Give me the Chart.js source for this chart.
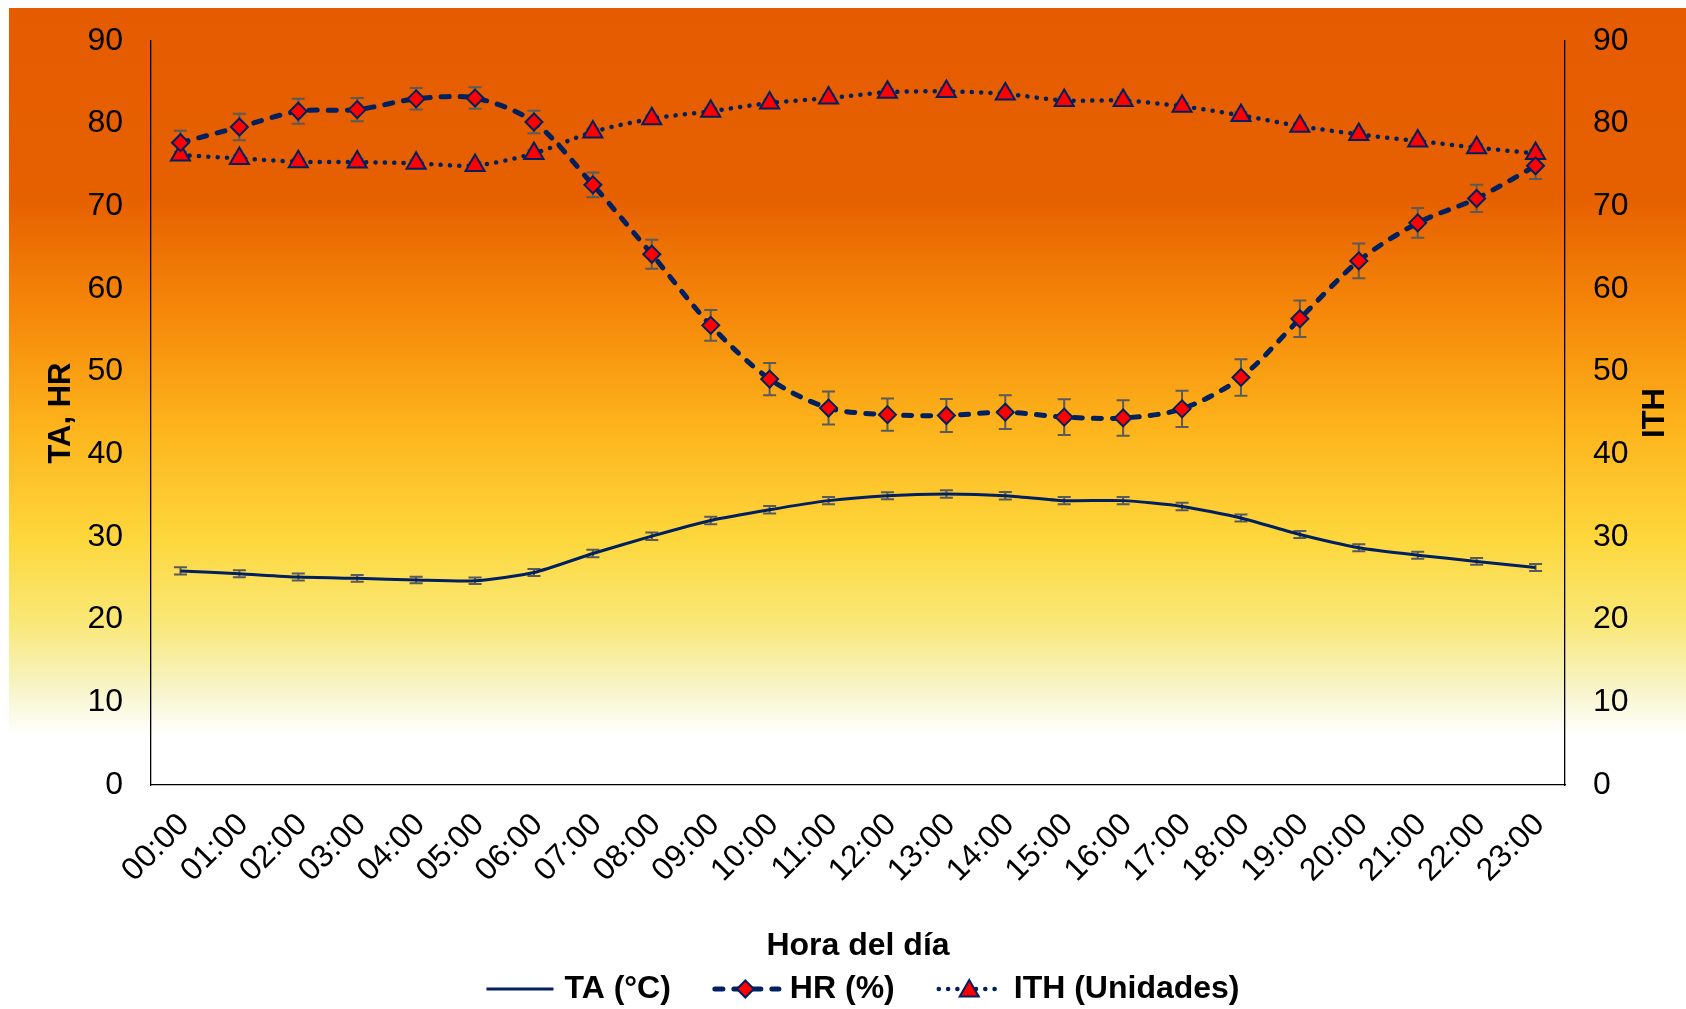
<!DOCTYPE html>
<html lang="es">
<head>
<meta charset="UTF-8">
<title>TA, HR e ITH por hora del día</title>
<script src="https://cdn.jsdelivr.net/npm/chart.js"></script>
<style>
  body { margin: 0; background: #fff; }
  #contenedor { width: 1686px; height: 1009px; }
</style>
</head>
<body>
<div id="contenedor"><canvas id="grafico"></canvas></div>
<script>
// datos
const horas = ['00:00', '01:00', '02:00', '03:00', '04:00', '05:00', '06:00', '07:00',
               '08:00', '09:00', '10:00', '11:00', '12:00', '13:00', '14:00', '15:00',
               '16:00', '17:00', '18:00', '19:00', '20:00', '21:00', '22:00', '23:00'];

const ta    = [25.9, 25.55, 25.15, 25.0, 24.8, 24.7, 25.7, 28.0, 30.1, 32.0, 33.3, 34.4,
               35.0, 35.2, 35.0, 34.4, 34.4, 33.7, 32.3, 30.3, 28.7, 27.8, 27.05, 26.3];
const taErr = [0.45, 0.42, 0.42, 0.4, 0.4, 0.4, 0.42, 0.45, 0.45, 0.45, 0.45, 0.45,
               0.42, 0.45, 0.45, 0.45, 0.45, 0.45, 0.42, 0.42, 0.42, 0.42, 0.42, 0.42];

const hr    = [77.7, 79.6, 81.5, 81.7, 83.0, 83.1, 80.2, 72.6, 64.2, 55.6, 49.1, 45.6,
               44.8, 44.7, 45.1, 44.5, 44.4, 45.5, 49.3, 56.4, 63.4, 68.0, 70.95, 74.9];
const hrErr = [1.45, 1.6, 1.5, 1.4, 1.3, 1.3, 1.35, 1.5, 1.75, 1.85, 1.95, 2.0,
               1.95, 2.0, 2.05, 2.15, 2.15, 2.2, 2.2, 2.2, 2.1, 1.8, 1.65, 1.6];

const ith    = [76.2, 75.8, 75.4, 75.35, 75.2, 74.95, 76.4, 79.0, 80.6, 81.5, 82.5, 83.1,
                83.8, 83.9, 83.6, 82.8, 82.8, 82.1, 81.0, 79.7, 78.7, 77.9, 77.1, 76.4];
const ithErr = [0.4, 0.4, 0.4, 0.4, 0.4, 0.4, 0.4, 0.4, 0.4, 0.4, 0.4, 0.4,
                0.4, 0.4, 0.4, 0.4, 0.4, 0.4, 0.4, 0.4, 0.4, 0.4, 0.4, 0.4];

const errores = [taErr, hrErr, ithErr];

const azul = '#002060';
const rojo = '#FF0000';
const fuente = "'Liberation Sans', Arial, sans-serif";

Chart.defaults.font.family = fuente;
Chart.defaults.color = '#000';

// fondo degradado naranja -> amarillo -> blanco
const fondo = {
  id: 'fondo',
  beforeDraw(chart) {
    const ctx = chart.ctx;
    const g = ctx.createLinearGradient(0, 8, 0, 1009);
    g.addColorStop(0, '#E55C00');
    g.addColorStop(0.19, '#E66000');
    g.addColorStop(0.31, '#F68A0A');
    g.addColorStop(0.42, '#FDB41C');
    g.addColorStop(0.53, '#FDD73C');
    g.addColorStop(0.615, '#F9E878');
    g.addColorStop(0.68, '#F7F4C8');
    g.addColorStop(0.726, '#FFFFFF');
    g.addColorStop(1, '#FFFFFF');
    ctx.save();
    ctx.fillStyle = '#fff';
    ctx.fillRect(0, 0, chart.width, chart.height);
    ctx.fillStyle = g;
    ctx.fillRect(9, 8, chart.width - 9, chart.height - 8);
    ctx.restore();
  }
};

// barras de error
const barrasError = {
  id: 'barrasError',
  beforeDatasetsDraw(chart) {
    const ctx = chart.ctx;
    ctx.save();
    ctx.strokeStyle = '#5A5A5A';
    ctx.lineWidth = 2;
    chart.data.datasets.forEach((ds, i) => {
      const meta = chart.getDatasetMeta(i);
      const esc = chart.scales[ds.yAxisID];
      errores[i].forEach((e, j) => {
        const x = meta.data[j].x;
        const yA = esc.getPixelForValue(ds.data[j] + e);
        const yB = esc.getPixelForValue(ds.data[j] - e);
        ctx.beginPath();
        ctx.moveTo(x, yA); ctx.lineTo(x, yB);
        ctx.moveTo(x - 6.5, yA); ctx.lineTo(x + 6.5, yA);
        ctx.moveTo(x - 6.5, yB); ctx.lineTo(x + 6.5, yB);
        ctx.stroke();
      });
    });
    ctx.restore();
  }
};

// titulo del eje derecho y leyenda estilo Excel
const extras = {
  id: 'extras',
  afterDraw(chart) {
    const ctx = chart.ctx;
    const area = chart.chartArea;
    ctx.save();
    ctx.fillStyle = '#000';
    ctx.font = 'bold 31px ' + fuente;
    ctx.textAlign = 'center';
    ctx.textBaseline = 'middle';
    ctx.translate(1655, (area.top + area.bottom) / 2);
    ctx.rotate(-Math.PI / 2);
    ctx.fillText('ITH', 0, 0);
    ctx.restore();

    ctx.save();
    ctx.font = 'bold 32px ' + fuente;
    ctx.textBaseline = 'middle';
    const largo = 67, sep = 11, entre = 41, yLey = 989;
    const dss = chart.data.datasets;
    let total = 0;
    dss.forEach(ds => { total += largo + sep + ctx.measureText(ds.label).width; });
    total += entre * (dss.length - 1);
    let x = 863 - total / 2;
    dss.forEach(ds => {
      ctx.save();
      ctx.strokeStyle = ds.borderColor;
      ctx.lineWidth = ds.borderWidth;
      ctx.lineCap = ds.borderCapStyle || 'butt';
      ctx.setLineDash(ds.borderDash || []);
      ctx.beginPath();
      ctx.moveTo(x + (ds.borderDash ? 3 : 0), yLey);
      ctx.lineTo(x + largo, yLey);
      ctx.stroke();
      ctx.setLineDash([]);
      if (ds.pointRadius > 0) {
        ctx.fillStyle = ds.pointBackgroundColor;
        ctx.strokeStyle = ds.pointBorderColor;
        ctx.lineWidth = ds.pointBorderWidth;
        Chart.helpers.drawPoint(ctx, {
          pointStyle: ds.pointStyle, radius: ds.pointRadius,
          borderWidth: ds.pointBorderWidth, rotation: 0
        }, x + largo / 2, yLey + (ds.pointStyle === 'triangle' ? 2 : 0));
      }
      ctx.restore();
      x += largo + sep;
      ctx.fillStyle = '#000';
      ctx.fillText(ds.label, x, yLey);
      x += ctx.measureText(ds.label).width + entre;
    });
    ctx.restore();
  }
};

const ticksEje = { stepSize: 10, padding: 28, font: { size: 32 } };

// ancho fijo del eje y sin relleno vertical extra por el padding de las etiquetas
const fijarEjeY = ancho => s => { s.width = ancho; s.paddingTop = 20; s.paddingBottom = 20; };

new Chart(document.getElementById('grafico'), {
  type: 'line',
  data: {
    labels: horas,
    datasets: [
      {
        label: 'TA (°C)', data: ta, yAxisID: 'y',
        borderColor: azul, borderWidth: 3, pointRadius: 0, tension: 0.2, fill: false
      },
      {
        label: 'HR (%)', data: hr, yAxisID: 'y',
        borderColor: azul, borderWidth: 5, borderDash: [8, 11], borderCapStyle: 'round',
        pointStyle: 'rectRot', pointRadius: 8.5,
        pointBackgroundColor: rojo, pointBorderColor: azul, pointBorderWidth: 2,
        tension: 0.3, fill: false
      },
      {
        label: 'ITH (Unidades)', data: ith, yAxisID: 'y1',
        borderColor: azul, borderWidth: 4.5, borderDash: [0.1, 9.2], borderCapStyle: 'round',
        pointStyle: 'triangle', pointRadius: 11,
        pointBackgroundColor: rojo, pointBorderColor: azul, pointBorderWidth: 2,
        tension: 0.3, fill: false
      }
    ]
  },
  options: {
    responsive: true,
    maintainAspectRatio: false,
    animation: false,
    devicePixelRatio: 1,
    layout: { padding: { top: 41, left: 0, right: 0, bottom: 0 } },
    plugins: {
      legend: { display: false },
      tooltip: { enabled: false }
    },
    scales: {
      x: {
        offset: true,
        grid: { display: false, drawTicks: false },
        border: { display: true, color: '#000', width: 1.3 },
        ticks: { autoSkip: false, minRotation: 45, maxRotation: 45, padding: 21, labelOffset: 4, font: { size: 32 } },
        title: { display: true, text: 'Hora del día', font: { size: 32, weight: 'bold' }, padding: { top: 0, bottom: 44 } },
        afterFit: s => { s.height = 224; }
      },
      y: {
        position: 'left', min: 0, max: 90,
        ticks: ticksEje,
        grid: { display: false, drawTicks: false },
        border: { display: true, color: '#000', width: 1.3 },
        title: { display: true, text: 'TA, HR', font: { size: 31, weight: 'bold' }, padding: { top: 43, bottom: 0 } },
        afterFit: fijarEjeY(151)
      },
      y1: {
        position: 'right', min: 0, max: 90,
        ticks: ticksEje,
        grid: { display: false, drawTicks: false },
        border: { display: true, color: '#000', width: 1.3 },
        afterFit: fijarEjeY(121)
      }
    }
  },
  plugins: [fondo, barrasError, extras]
});
</script>
</body>
</html>
